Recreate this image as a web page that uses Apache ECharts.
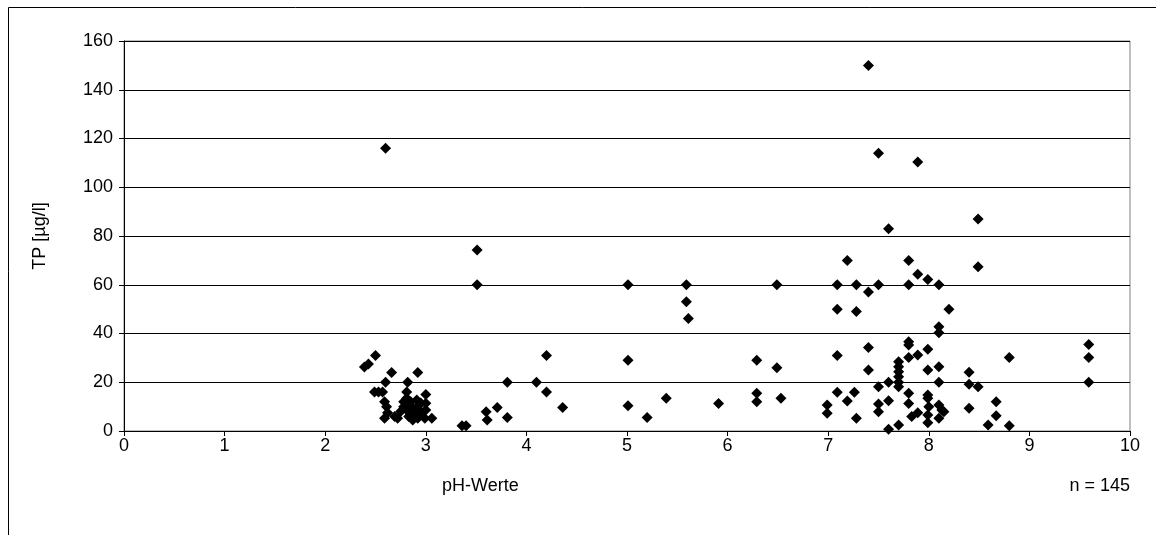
<!DOCTYPE html>
<html>
<head>
<meta charset="utf-8">
<script src="https://cdn.jsdelivr.net/npm/echarts@6/dist/echarts.min.js"></script>
<style>html,body{margin:0;padding:0;background:#fff}#c{width:1156px;height:535px}</style>
</head>
<body>
<div id="c"></div>
<script>
const xTicks = [0,1,2,3,4,5,6,7,8,9,10];
const yTicks = [0,20,40,60,80,100,120,140,160];
const phValues = [
  2.60,2.50,2.43,2.39,2.66,2.92,2.60,2.82,2.49,2.53,2.57,2.81,3.00,2.81,2.91,2.59,3.00,2.78,2.85,2.88,
  2.93,2.61,3.00,2.81,2.85,2.90,2.93,2.62,2.59,2.69,2.72,2.87,2.92,2.99,3.06,2.78,2.95,2.83,2.85,2.75,2.95,
  3.51,3.51,3.36,3.40,3.60,3.61,3.71,3.81,3.81,4.10,4.20,4.20,4.36,5.01,5.01,5.01,5.20,5.39,5.59,5.59,
  5.61,5.91,6.29,6.29,6.29,6.49,6.49,6.53,
  6.99,6.99,7.09,7.09,7.09,7.09,7.19,7.19,7.26,7.28,7.28,7.28,7.40,7.40,7.40,7.40,7.50,7.50,7.50,7.50,
  7.50,7.60,7.60,7.60,7.60,7.70,7.70,7.70,7.70,7.70,7.70,7.70,7.80,7.80,7.80,7.80,7.80,7.80,7.80,7.83,
  7.89,7.89,7.89,7.89,7.99,7.99,7.99,7.99,7.99,7.99,7.99,8.00,8.10,8.10,8.10,8.10,8.10,8.10,8.13,8.15,
  8.10,8.20,8.40,8.40,8.40,8.49,8.49,8.49,8.59,8.67,8.67,8.80,8.80,9.59,9.59,9.59
];
const tpValues = [
  116,31,27.5,26.3,24,24,20,20,16,16,16,16,15,13.4,12.7,12,11.4,12,10.5,9,
  10.5,10,8.6,8.6,7,8,6.5,7.5,5.2,5.9,5.2,4.5,5.2,5.2,5.2,10,11.5,6,12,8,8,
  74.3,60,2.2,2.2,7.9,4.5,9.6,20,5.5,20,31,16,9.6,60,29,10.4,5.5,13.4,60,53,
  46.2,11.3,29,15.5,12,60,26,13.4,
  10.7,7.3,60,50,31,15.9,70,12.3,15.9,60,49,5.2,150,57,34.3,25,114,60,18.2,11.1,
  7.9,83,20,12.4,0.7,28.4,26.4,24.3,22.3,18.2,2.5,20,70,60,36.6,35.3,30.2,15.5,11.3,5.9,
  110.4,64.3,31.2,7.5,62.2,33.5,25,14.8,13.4,6.6,3.4,10,60,42.8,40.3,26.4,20,10.7,8.6,7.9,
  5.2,50,24.1,19.2,9.3,87,67.4,18.2,2.5,12,6.3,30.2,2.2,35.5,30.2,20
];
const points = phValues.map((x, i) => [x, tpValues[i]]);

const FONT = '"Liberation Sans", Arial, sans-serif';
const chart = echarts.init(document.getElementById('c'), null, {renderer: 'canvas'});
chart.setOption({
  animation: false,
  backgroundColor: '#fff',
  grid: {left: 124, right: 26, top: 41, bottom: 104, show: true, borderColor: '#808080', borderWidth: 1, backgroundColor: 'transparent'},
  xAxis: {
    type: 'value', min: xTicks[0], max: xTicks[xTicks.length - 1], interval: 1,
    axisLine: {show: true, onZero: false, lineStyle: {color: '#000', width: 1}},
    axisTick: {show: true, inside: false, length: 5, lineStyle: {color: '#000'}},
    axisLabel: {color: '#000', fontSize: 18, fontFamily: FONT, margin: 6},
    splitLine: {show: false}
  },
  yAxis: {
    type: 'value', min: yTicks[0], max: yTicks[yTicks.length - 1], interval: 20,
    name: 'TP [µg/l]', nameLocation: 'middle', nameGap: 75, nameRotate: 90,
    nameTextStyle: {color: '#000', fontSize: 18, fontFamily: FONT},
    axisLine: {show: true, lineStyle: {color: '#000', width: 1}},
    axisTick: {show: true, inside: false, length: 5, lineStyle: {color: '#000'}},
    axisLabel: {color: '#000', fontSize: 18, fontFamily: FONT, margin: 11},
    splitLine: {show: true, lineStyle: {color: '#000', width: 1}}
  },
  series: [{
    type: 'scatter', data: points, symbol: 'diamond', symbolSize: 11,
    itemStyle: {color: '#000', opacity: 1}
  }],
  graphic: [
    {type: 'rect', shape: {x: 8.5, y: 7.5, width: 1300, height: 700}, style: {fill: 'none', stroke: '#000', lineWidth: 1}, silent: true},
    {type: 'text', left: 442, top: 477, style: {text: 'pH-Werte', fill: '#000', font: '18px ' + FONT}},
    {type: 'text', right: 26, top: 477, style: {text: 'n = 145', fill: '#000', font: '18px ' + FONT}}
  ]
});
</script>
</body>
</html>
